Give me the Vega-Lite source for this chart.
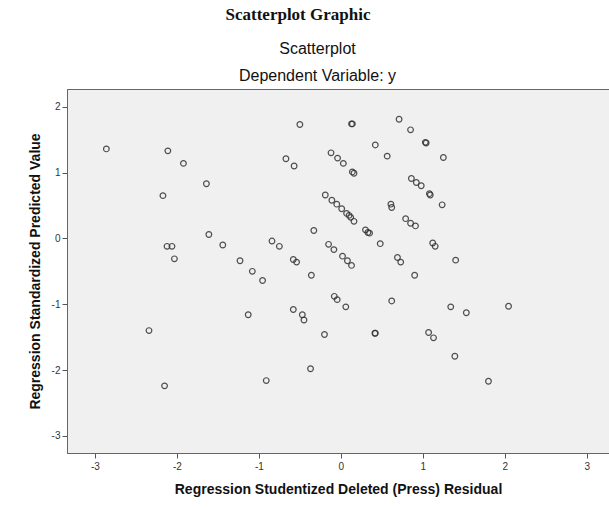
{
  "$schema": "https://vega.github.io/schema/vega-lite/v6.json",
  "autosize": {"type": "none"},
  "padding": {"left": 67, "top": 89, "right": 0, "bottom": 55},
  "width": 542,
  "height": 364,
  "background": "white",
  "title": {
    "text": "Scatterplot Graphic",
    "font": "Liberation Serif",
    "fontSize": 17,
    "fontWeight": "bold",
    "color": "#111",
    "anchor": "middle",
    "dx": -40,
    "offset": 16
  },
  "config": {
    "view": {"fill": "#f0f0f0", "stroke": "#666", "strokeWidth": 1},
    "axis": {"labelFont": "Liberation Sans", "titleFont": "Liberation Sans"}
  },
  "data": {
    "values": [
      {"residual": -2.86, "predicted": 1.36},
      {"residual": -2.11, "predicted": 1.33},
      {"residual": -1.92, "predicted": 1.14},
      {"residual": -1.64, "predicted": 0.83},
      {"residual": -2.17, "predicted": 0.65},
      {"residual": -0.50, "predicted": 1.73},
      {"residual": -0.67, "predicted": 1.21},
      {"residual": -0.57, "predicted": 1.10},
      {"residual": -0.12, "predicted": 1.30},
      {"residual": -0.04, "predicted": 1.22},
      {"residual": 0.03, "predicted": 1.14},
      {"residual": 0.14, "predicted": 1.01},
      {"residual": 0.16, "predicted": 0.99},
      {"residual": 0.13, "predicted": 1.74},
      {"residual": 0.14, "predicted": 1.74},
      {"residual": 0.71, "predicted": 1.81},
      {"residual": 0.85, "predicted": 1.65},
      {"residual": 1.03, "predicted": 1.46},
      {"residual": 1.04, "predicted": 1.45},
      {"residual": 0.42, "predicted": 1.42},
      {"residual": 0.565, "predicted": 1.25},
      {"residual": 1.25, "predicted": 1.23},
      {"residual": 0.86, "predicted": 0.91},
      {"residual": 0.92, "predicted": 0.85},
      {"residual": 0.98, "predicted": 0.80},
      {"residual": 1.08, "predicted": 0.68},
      {"residual": 1.09, "predicted": 0.66},
      {"residual": 1.235, "predicted": 0.51},
      {"residual": -0.19, "predicted": 0.66},
      {"residual": -0.11, "predicted": 0.58},
      {"residual": -0.05, "predicted": 0.52},
      {"residual": 0.01, "predicted": 0.45},
      {"residual": 0.07, "predicted": 0.38},
      {"residual": 0.10, "predicted": 0.35},
      {"residual": 0.12, "predicted": 0.32},
      {"residual": 0.16, "predicted": 0.26},
      {"residual": 0.61, "predicted": 0.52},
      {"residual": 0.62, "predicted": 0.47},
      {"residual": 0.79, "predicted": 0.30},
      {"residual": 0.85, "predicted": 0.23},
      {"residual": 0.91, "predicted": 0.19},
      {"residual": 0.30, "predicted": 0.13},
      {"residual": 0.33, "predicted": 0.09},
      {"residual": 0.35, "predicted": 0.08},
      {"residual": 0.48, "predicted": -0.08},
      {"residual": -0.15, "predicted": -0.09},
      {"residual": -0.085, "predicted": -0.17},
      {"residual": 0.02, "predicted": -0.27},
      {"residual": 0.08, "predicted": -0.34},
      {"residual": 0.13, "predicted": -0.41},
      {"residual": 0.69, "predicted": -0.29},
      {"residual": 0.73, "predicted": -0.36},
      {"residual": 1.12, "predicted": -0.07},
      {"residual": 1.15, "predicted": -0.12},
      {"residual": 1.40, "predicted": -0.33},
      {"residual": -1.61, "predicted": 0.06},
      {"residual": -2.12, "predicted": -0.12},
      {"residual": -2.06, "predicted": -0.12},
      {"residual": -2.03, "predicted": -0.31},
      {"residual": -1.44, "predicted": -0.10},
      {"residual": -1.23, "predicted": -0.34},
      {"residual": -0.84, "predicted": -0.04},
      {"residual": -0.75, "predicted": -0.12},
      {"residual": -0.58, "predicted": -0.32},
      {"residual": -0.54, "predicted": -0.36},
      {"residual": -0.33, "predicted": 0.12},
      {"residual": -1.08, "predicted": -0.50},
      {"residual": -0.955, "predicted": -0.64},
      {"residual": -0.36, "predicted": -0.56},
      {"residual": -0.08, "predicted": -0.88},
      {"residual": -0.045, "predicted": -0.93},
      {"residual": -1.13, "predicted": -1.16},
      {"residual": -0.58, "predicted": -1.08},
      {"residual": -0.47, "predicted": -1.16},
      {"residual": -0.45, "predicted": -1.24},
      {"residual": -0.20, "predicted": -1.46},
      {"residual": -2.34, "predicted": -1.40},
      {"residual": -0.37, "predicted": -1.98},
      {"residual": -0.91, "predicted": -2.16},
      {"residual": -2.15, "predicted": -2.24},
      {"residual": 0.90, "predicted": -0.56},
      {"residual": 0.06, "predicted": -1.04},
      {"residual": 0.62, "predicted": -0.95},
      {"residual": 1.34, "predicted": -1.04},
      {"residual": 1.53, "predicted": -1.13},
      {"residual": 2.045, "predicted": -1.03},
      {"residual": 0.415, "predicted": -1.44},
      {"residual": 0.42, "predicted": -1.44},
      {"residual": 1.07, "predicted": -1.43},
      {"residual": 1.13, "predicted": -1.51},
      {"residual": 1.39, "predicted": -1.79},
      {"residual": 1.80, "predicted": -2.17}
    ]
  },
  "layer": [
    {
      "mark": {"type": "point", "shape": "circle", "filled": false, "size": 32, "stroke": "#333", "strokeWidth": 1.2, "opacity": 0.85},
      "encoding": {
        "x": {
          "field": "residual", "type": "quantitative",
          "scale": {"domain": [-3.34, 3.27], "nice": false, "zero": false},
          "axis": {
            "orient": "bottom", "values": [-3, -2, -1, 0, 1, 2, 3], "grid": false,
            "labelExpr": "'' + datum.value",
            "tickSize": 5, "tickColor": "#555", "domainColor": "#666",
            "labelFontSize": 10, "labelColor": "#333", "labelPadding": 3,
            "title": "Regression Studentized Deleted (Press) Residual",
            "titleFontSize": 14, "titleFontWeight": "bold", "titleColor": "#111", "titlePadding": 11
          }
        },
        "y": {
          "field": "predicted", "type": "quantitative",
          "scale": {"domain": [-3.26, 2.27], "nice": false, "zero": false},
          "axis": {
            "values": [-3, -2, -1, 0, 1, 2], "grid": false,
            "labelExpr": "'' + datum.value",
            "tickSize": 5, "tickColor": "#555", "domainColor": "#666",
            "labelFontSize": 10, "labelColor": "#333", "labelPadding": 2,
            "title": "Regression Standardized Predicted Value",
            "titleFontSize": 14, "titleFontWeight": "bold", "titleColor": "#111", "titlePadding": 9
          }
        }
      }
    },
    {
      "mark": {"type": "point", "opacity": 0},
      "encoding": {
        "x": {
          "field": "residual", "type": "quantitative",
          "axis": {
            "orient": "top", "domain": false, "ticks": false, "labels": false, "grid": false,
            "title": ["Scatterplot", "Dependent Variable: y"],
            "titleFontSize": 16, "titleFontWeight": "normal", "titleColor": "#111",
            "titleLineHeight": 27, "titlePadding": 6, "titleX": 250
          }
        }
      }
    }
  ],
  "resolve": {"axis": {"x": "independent"}}
}
